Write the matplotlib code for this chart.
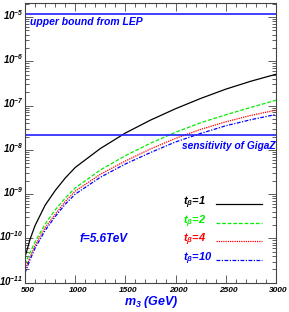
import matplotlib
matplotlib.use("Agg")
import matplotlib.pyplot as plt
import matplotlib.transforms as mtransforms
from matplotlib.ticker import FixedLocator, MultipleLocator, LogLocator, NullFormatter

plt.rcParams['font.family'] = ['Liberation Sans', 'DejaVu Sans']
plt.rcParams['mathtext.fontset'] = 'custom'
plt.rcParams['mathtext.rm'] = 'Liberation Sans:bold:italic'
plt.rcParams['mathtext.it'] = 'Liberation Sans:bold:italic'
plt.rcParams['mathtext.bf'] = 'Liberation Sans:bold:italic'

# data
m3 = [500, 550, 600, 700, 800, 900, 1000, 1250, 1500, 1750, 2000, 2250, 2500, 2750, 3000]
br_tb1 = [3.8e-11, 9.5e-11, 1.95e-10, 5.6e-10, 1.2e-9, 2.3e-9, 4.0e-9, 1.07e-8, 2.4e-8,
          4.7e-8, 8.5e-8, 1.45e-7, 2.35e-7, 3.55e-7, 5.1e-7]
br_tb2 = [2.6e-11, 4.8e-11, 8.3e-11, 2.1e-10, 4.4e-10, 8.1e-10, 1.38e-9, 3.5e-9, 7.4e-9,
          1.41e-8, 2.5e-8, 4.1e-8, 6.2e-8, 9.1e-8, 1.32e-7]
br_tb4 = [1.9e-11, 3.8e-11, 6.9e-11, 1.74e-10, 3.5e-10, 6.8e-10, 1.17e-9, 2.8e-9, 5.6e-9,
          1.05e-8, 1.82e-8, 2.9e-8, 4.3e-8, 6.0e-8, 7.9e-8]
br_tb10 = [1.66e-11, 3.3e-11, 6.0e-11, 1.51e-10, 3.1e-10, 5.9e-10, 1.0e-9, 2.4e-9, 4.8e-9,
           8.7e-9, 1.51e-8, 2.35e-8, 3.5e-8, 4.8e-8, 6.3e-8]
lep_bound = 1.2e-5
gigaz = 2.2e-8

labels = [r'$t_\beta$=1', r'$t_\beta$=2', r'$t_\beta$=4', r'$t_\beta$=10']
colors = ['black', '#00ee00', '#ff0000', '#0000ff']
styles = ['-', (0, (3, 1.5)), (0, (1, 0.8)), (0, (3, 1.2, 1, 1.2))]

fig = plt.figure(figsize=(2.89, 3.12), dpi=100)
ax = fig.add_axes([0.0865, 0.0939, 0.8685, 0.8955])

series = [br_tb1, br_tb2, br_tb4, br_tb10]
for ys, c, ls in zip(series, colors, styles):
    ax.plot(m3, ys, color=c, linestyle=ls, lw=0.9)

ax.axhline(lep_bound, color='#2020ff', lw=1.2)
ax.axhline(gigaz, color='#2020ff', lw=1.2)

ax.set_yscale('log')
ax.set_xlim(500, 3000)
ax.set_ylim(1e-11, 2.04e-5)

ax.xaxis.set_minor_locator(MultipleLocator(100))
ax.set_xticks([500, 1000, 1500, 2000, 2500, 3000])
ax.set_xticklabels(['500', '1000', '1500', '2000', '2500', '3000'])
ax.yaxis.set_major_locator(FixedLocator([1e-11, 1e-10, 1e-9, 1e-8, 1e-7, 1e-6, 1e-5]))
ax.yaxis.set_minor_locator(LogLocator(base=10, subs=range(2, 10)))
ax.yaxis.set_minor_formatter(NullFormatter())
ax.set_yticklabels([r'$10^{-%d}$' % e for e in [11, 10, 9, 8, 7, 6, 5]])

ax.tick_params(which='both', direction='in', top=True, right=True, color='#444444',
               labelsize=6, width=0.6)
ax.tick_params(which='major', length=6, pad=3)
ax.tick_params(which='minor', length=3)
ax.tick_params(axis='y', which='major', pad=1, labelsize=7)

# ROOT-like label placement: x labels a bit to the right, y labels a bit up
shift_x = mtransforms.ScaledTranslation(2.5 / 100, 0, fig.dpi_scale_trans)
shift_y = mtransforms.ScaledTranslation(0, 3 / 100, fig.dpi_scale_trans)
for lab in ax.get_xticklabels():
    lab.set_fontstyle('italic')
    lab.set_fontweight('bold')
    lab.set_transform(lab.get_transform() + shift_x)
for lab in ax.get_yticklabels():
    lab.set_transform(lab.get_transform() + shift_y)
for s in ax.spines.values():
    s.set_color('#444444')
    s.set_linewidth(0.8)

txt = dict(fontweight='bold', fontstyle='italic', transform=ax.transAxes)
ax.text(0.02, 0.933, 'upper bound from LEP', color='#0000ff', fontsize=7.5, va='center', **txt)
ax.text(0.997, 0.489, 'sensitivity of GigaZ', color='#0000ff', fontsize=7.3, va='center',
        ha='right', **txt)
ax.text(0.219, 0.156, 'f=5.6TeV', color='#0000ff', fontsize=8.5, va='center', **txt)

ly = [0.285, 0.217, 0.153, 0.085]
for lab, c, ls, y in zip(labels, colors, styles, ly):
    ax.text(0.63, y, lab, color=c, fontsize=8, va='center', **txt)
    ax.plot([0.761, 0.944], [y - 0.004, y - 0.004], color=c, linestyle=ls, lw=0.9,
            transform=ax.transAxes)

fig.text(0.523, 0.032, r'$m_3$ (GeV)', color='#0000ff', fontsize=9, fontweight='bold',
         fontstyle='italic', ha='center', va='center')

fig.savefig('out.png', dpi=100)
